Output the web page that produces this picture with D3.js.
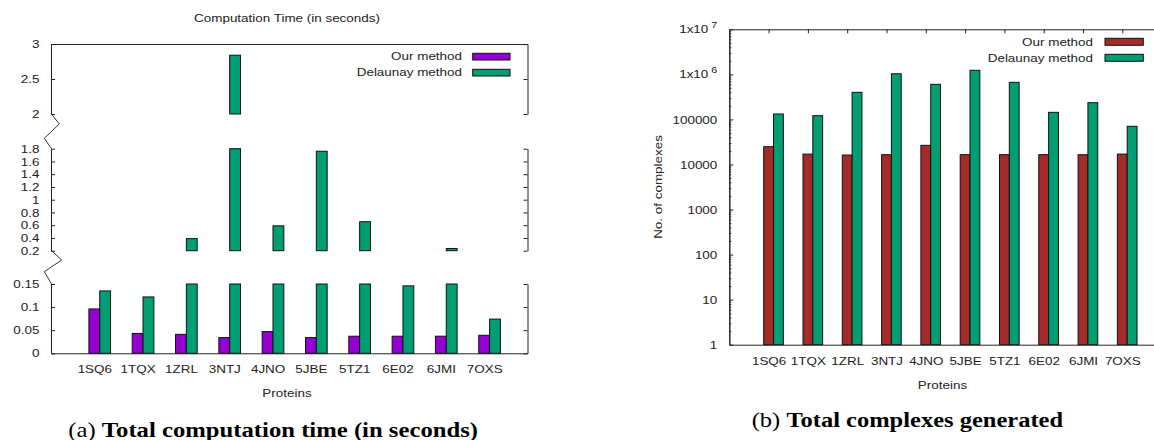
<!DOCTYPE html>
<html>
<head>
<meta charset="utf-8">
<script src="https://cdn.jsdelivr.net/npm/d3@7"></script>
<style>
body { margin: 0; background: #fff; }
svg text { font-family: "Liberation Sans", Arial, sans-serif; font-size: 11.2px; fill: #222; }
svg text.cap { font-family: "Liberation Serif", "Times New Roman", serif; font-size: 21px; fill: #000; }
</style>
</head>
<body>
<svg id="fig" width="1154" height="440"></svg>
<script>
const proteins = ['1SQ6', '1TQX', '1ZRL', '3NTJ', '4JNO', '5JBE', '5TZ1', '6E02', '6JMI', '7OXS']
const seriesNames = ['Our method', 'Delaunay method']

// (a) seconds
const ourTime = [0.096, 0.043, 0.041, 0.034, 0.047, 0.034, 0.037, 0.037, 0.037, 0.039]
const delaunayTime = [0.135, 0.122, 0.39, 2.84, 0.59, 1.76, 0.655, 0.146, 0.235, 0.074]
const timeTopTicks = [2, 2.5, 3]
const timeMidTicks = [0.2, 0.4, 0.6, 0.8, 1, 1.2, 1.4, 1.6, 1.8]
const timeLowTicks = [0, 0.05, 0.1, 0.15]

// (b) number of complexes
const ourComplexes = [24800, 17000, 16200, 16500, 26600, 16500, 16500, 16500, 16500, 17000]
const delaunayComplexes = [132000, 121000, 399000, 1030000, 601000, 1230000, 665000, 143600, 235000, 70300]
const countTicks = [1, 10, 100, 1000, 10000, 100000, 1e6, 1e7]

const svg = d3.select('#fig')
const ink = '#222'
const stretch = 1.2   // the source figure's text is widened

// ---------- (a) computation time, broken y axis ----------
const ax = d3.scaleLinear().domain([-1, 10]).range([51, 527.5])
const timeColors = ['#9400d3', '#009e73']
const timeSeries = [ourTime, delaunayTime]
const panels = [
  {domain: [2, 3], ticks: timeTopTicks, range: [114, 44]},
  {domain: [0.2, 1.8], ticks: timeMidTicks, range: [250.7, 148.7]},
  {domain: [0, 0.15], ticks: timeLowTicks, range: [353.3, 284]},
]
const barWa = ax(0.25) - ax(0)

const left = svg.append('g')

panels.forEach(p => {
  let y = d3.scaleLinear().domain(p.domain).range(p.range)
  timeSeries.forEach((vals, s) => {
    left.append('g').selectAll('rect')
      .data(vals.map((v, i) => ({v, i})).filter(d => d.v > p.domain[0]))
      .enter().append('rect')
        .attr('x', d => ax(d.i - 0.125 + s * 0.25))
        .attr('width', barWa)
        .attr('y', d => y(Math.min(d.v, p.domain[1])))
        .attr('height', d => y(p.domain[0]) - y(Math.min(d.v, p.domain[1])))
        .attr('fill', timeColors[s])
        .attr('stroke', '#111')
        .attr('stroke-width', 1)
  })
  left.append('g')
      .attr('transform', `translate(${ax.range()[0]},0)`)
      .call(d3.axisLeft(y).tickValues(p.ticks).tickSize(-4).tickSizeOuter(0)
        .tickPadding(11.5).tickFormat(d3.format('')))
  left.append('g')
      .attr('transform', `translate(${ax.range()[1]},0)`)
      .call(d3.axisRight(y).tickValues(p.ticks).tickSize(-4).tickSizeOuter(0).tickFormat(''))
})

// top border of the upper panel
left.append('line')
    .attr('x1', ax.range()[0]).attr('x2', ax.range()[1] + 0.5)
    .attr('y1', 44.5).attr('y2', 44.5)
    .attr('stroke', ink)

// zigzag marks for the axis breaks
const zig = d3.line()
left.append('path')
    .attr('d', zig([[51.5, 114], [59.3, 124], [44.3, 138.3], [51.5, 148.7]]))
    .attr('fill', 'none').attr('stroke', '#333')
left.append('path')
    .attr('d', zig([[51.5, 250.7], [61.7, 260], [44.3, 271.7], [51.5, 284]]))
    .attr('fill', 'none').attr('stroke', '#333')

left.append('g')
    .attr('transform', 'translate(0,353.3)')
    .call(d3.axisBottom(ax).tickValues(d3.range(proteins.length)).tickSize(0).tickSizeOuter(0)
      .tickPadding(12).tickFormat(i => proteins[i]))

left.append('text')
    .attr('x', 287).attr('y', 22)
    .attr('text-anchor', 'middle')
    .text('Computation Time (in seconds)')

left.append('text')
    .attr('x', 287).attr('y', 397)
    .attr('text-anchor', 'middle')
    .text('Proteins')

seriesNames.forEach((name, s) => {
  left.append('text')
      .attr('x', 462).attr('y', 60.4 + s * 16)
      .attr('text-anchor', 'end')
      .text(name)
  left.append('rect')
      .attr('x', 472.7).attr('y', 53.3 + s * 16)
      .attr('width', 37.3).attr('height', 6.7)
      .attr('fill', timeColors[s]).attr('stroke', '#111')
})

// ---------- (b) total complexes, log y axis ----------
const rx = d3.scaleLinear().domain([-1, 10]).range([729.3, 1161.6])
const ry = d3.scaleLog().domain([1, 1e7]).range([344.7, 29.3])
const countColors = ['#a52a2a', '#009e73']
const countSeries = [ourComplexes, delaunayComplexes]
const barWb = rx(0.25) - rx(0)

const right = svg.append('g')

countSeries.forEach((vals, s) => {
  right.append('g').selectAll('rect')
    .data(vals)
    .enter().append('rect')
      .attr('x', (d, i) => rx(i - 0.125 + s * 0.25))
      .attr('width', barWb)
      .attr('y', d => ry(d))
      .attr('height', d => ry(1) - ry(d))
      .attr('fill', countColors[s])
      .attr('stroke', '#111')
})

const minor = ry.ticks().filter(d => !countTicks.includes(d))
right.append('g')
    .attr('transform', `translate(${rx.range()[0]},0)`)
    .call(d3.axisLeft(ry).tickValues(minor).tickSize(-2).tickSizeOuter(0).tickFormat(''))
right.append('g')
    .attr('transform', `translate(${rx.range()[0]},0)`)
    .call(d3.axisLeft(ry).tickValues(countTicks).tickSize(-4).tickSizeOuter(0)
      .tickPadding(12).tickFormat(d => d >= 1e6 ? '' : d3.format('d')(d)))
    .selectAll('.tick text')
    .each(function (d) {
      if (d < 1e6) return
      let t = d3.select(this)
      t.text('1x10')
      t.append('tspan')
          .attr('dx', 2.5).attr('dy', -5)
          .style('font-size', '9px')
          .text(Math.round(Math.log10(d)))
    })
right.append('g')
    .attr('transform', `translate(${rx.range()[1]},0)`)
    .call(d3.axisRight(ry).tickValues(countTicks).tickSize(-4).tickSizeOuter(0).tickFormat(''))
right.append('g')
    .attr('transform', 'translate(0,29.3)')
    .call(d3.axisTop(rx).tickValues(d3.range(proteins.length)).tickSize(-4).tickSizeOuter(0).tickFormat(''))
right.append('g')
    .attr('transform', 'translate(0,344.7)')
    .call(d3.axisBottom(rx).tickValues(d3.range(proteins.length)).tickSize(0).tickSizeOuter(0)
      .tickPadding(12).tickFormat(i => proteins[i]))

right.append('text')
    .attr('class', 'ylab')
    .attr('transform', `translate(662,187) rotate(-90) scale(${stretch},1)`)
    .attr('text-anchor', 'middle')
    .text('No. of complexes')

right.append('text')
    .attr('x', 942.5).attr('y', 389.5)
    .attr('text-anchor', 'middle')
    .text('Proteins')

seriesNames.forEach((name, s) => {
  right.append('text')
      .attr('x', 1093).attr('y', 45.7 + s * 16)
      .attr('text-anchor', 'end')
      .text(name)
  right.append('rect')
      .attr('x', 1105).attr('y', 38.3 + s * 16)
      .attr('width', 38.3).attr('height', 7)
      .attr('fill', countColors[s]).attr('stroke', '#111')
})

svg.selectAll('.domain, .tick line').attr('stroke', ink)

// widen the sans labels about their anchor, like the source picture
svg.selectAll('text:not(.cap):not(.ylab)').each(function () {
  let t = d3.select(this)
  let x = +t.attr('x') || 0
  let prev = t.attr('transform') || ''
  t.attr('transform', `${prev} translate(${x},0) scale(${stretch},1) translate(${-x},0)`)
})

// ---------- captions (wide serif) ----------
function caption(x0, x1, yb, label, bold) {
  let t = svg.append('text').attr('class', 'cap').attr('x', 0).attr('y', yb)
  t.append('tspan').text(label + ' ')
  t.append('tspan').attr('font-weight', 'bold').text(bold)
  let w = t.node().getComputedTextLength()
  t.attr('transform', `translate(${x0},0) scale(${(x1 - x0) / w},1)`)
}
caption(68.3, 478.3, 436.7, '(a)', 'Total computation time (in seconds)')
caption(751.7, 1063.3, 427.5, '(b)', 'Total complexes generated')
</script>
</body>
</html>
